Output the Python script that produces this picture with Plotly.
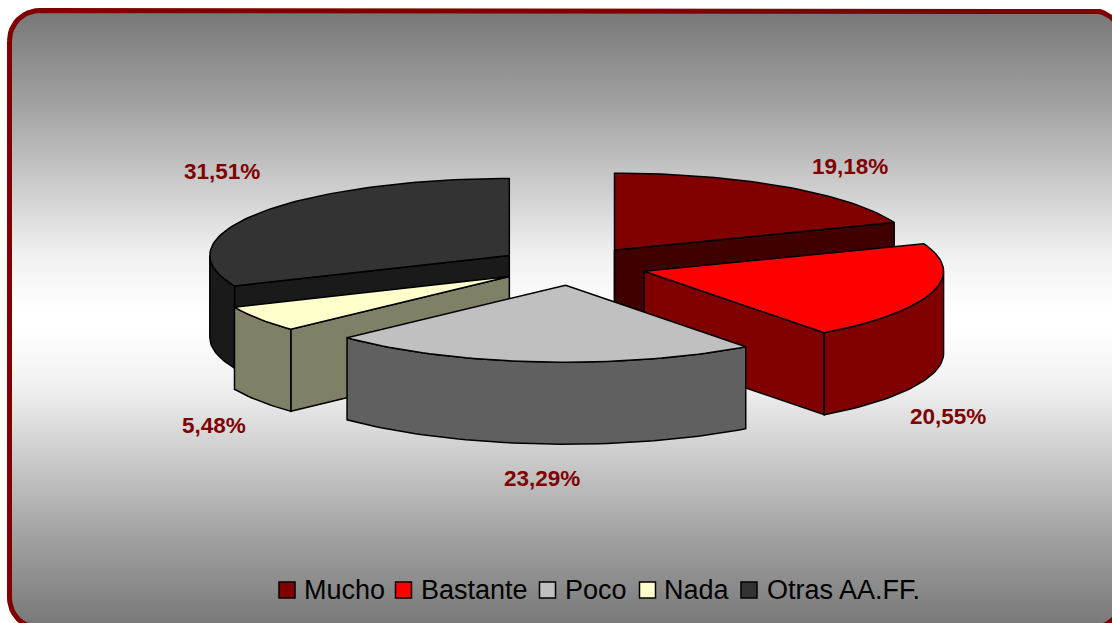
import math
import plotly.graph_objects as go

# ---- data -------------------------------------------------------------
categories = ["Mucho", "Bastante", "Poco", "Nada", "Otras AA.FF."]
percent_values = [19.18, 20.55, 23.29, 5.48, 31.51]
top_colors = ["#800000", "#FF0000", "#C0C0C0", "#FFFFCC", "#333333"]
wall_colors = ["#400000", "#800000", "#606060", "#808066", "#1A1A1A"]
label_x = [849.5, 948, 542, 214, 222]
label_y = [166, 416, 478, 425, 171]
legend_swatch_x = [287, 403.5, 547.5, 647.5, 749]
legend_text_x = [304, 421, 565, 664, 767]
legend_y = 590
paint_order = [4, 0, 3, 1, 2]

# ---- projection of the tilted, exploded pie ---------------------------
W, H = 1112, 623
CX, CY, RX, TILT, EXPLODE, DEPTH = 572, 266, 299.5, 0.257, 75, 82


def project(cx, cy, deg, radius=RX):
    a = math.radians(deg)
    return cx + radius * math.sin(a), cy - radius * TILT * math.cos(a)


def arc(cx, cy, a0, a1, dy=0):
    n = max(2, int(abs(a1 - a0) / 1.5) + 1)
    pts = [project(cx, cy, a0 + (a1 - a0) * i / (n - 1)) for i in range(n)]
    return [(x, y + dy) for x, y in pts]


def add_poly(fig, pts, color, **kw):
    pts = list(pts) + [pts[0]]
    fig.add_trace(go.Scatter(
        x=[p[0] for p in pts], y=[p[1] for p in pts], mode="lines",
        fill="toself", fillcolor=color, line=dict(color="black", width=1.5),
        hoverinfo="skip", showlegend=False, **kw))


fig = go.Figure()

# rounded background panel with the vertical gradient
L, T, R_, B, RAD = 9.5, 10.5, 1122, 628, 30
panel = []
for cx, cy, a0 in [(L + RAD, T + RAD, 180), (R_ - RAD, T + RAD, 270),
                   (R_ - RAD, B - RAD, 0), (L + RAD, B - RAD, 90)]:
    for i in range(13):
        a = math.radians(a0 + 7.5 * i)
        panel.append((cx + RAD * math.cos(a), cy + RAD * math.sin(a)))
panel.append(panel[0])
fig.add_trace(go.Scatter(
    x=[p[0] for p in panel], y=[p[1] for p in panel], mode="lines",
    fill="toself", line=dict(color="#800000", width=5),
    fillgradient=dict(type="vertical", colorscale=[
        [0, "#777777"], [0.15, "#A2A2A2"], [0.31, "#D6D6D6"], [0.39, "#F0F0F0"],
        [0.47, "#FDFDFD"], [0.498, "#FFFFFF"], [0.526, "#FDFDFD"], [0.606, "#F0F0F0"],
        [0.686, "#D6D6D6"], [0.846, "#A2A2A2"], [1, "#777777"]]),
    hoverinfo="skip", showlegend=False))

# slice angles
total = sum(percent_values)
starts, ends, acc = [], [], 0.0
for v in percent_values:
    starts.append(acc / total * 360)
    acc += v
    ends.append(acc / total * 360)

for i in paint_order:
    a0, a1 = starts[i], ends[i]
    mid = math.radians((a0 + a1) / 2)
    cx = CX + EXPLODE * math.sin(mid)
    cy = CY - EXPLODE * TILT * math.cos(mid)
    # cut faces that look towards the viewer
    if 180 <= a0 < 360:
        p = project(cx, cy, a0)
        add_poly(fig, [(cx, cy), p, (p[0], p[1] + DEPTH), (cx, cy + DEPTH)], wall_colors[i])
    if 0 < a1 <= 180:
        p = project(cx, cy, a1)
        add_poly(fig, [(cx, cy), p, (p[0], p[1] + DEPTH), (cx, cy + DEPTH)], wall_colors[i])
    if a0 == 0:
        add_poly(fig, [(cx, cy), (cx, cy + DEPTH)], wall_colors[i])
    # rim wall, front half only
    w0, w1 = max(a0, 90), min(a1, 270)
    if w0 < w1:
        add_poly(fig, arc(cx, cy, w0, w1) + arc(cx, cy, w1, w0, DEPTH), wall_colors[i])
    # top face
    add_poly(fig, [(cx, cy)] + arc(cx, cy, a0, a1), top_colors[i])

# legend row: square swatch and name per category
for name, color, sx, tx in zip(categories, top_colors, legend_swatch_x, legend_text_x):
    fig.add_trace(go.Scatter(
        x=[sx], y=[legend_y], mode="markers", name=name, showlegend=False,
        marker=dict(symbol="square", size=16, color=color,
                    line=dict(color="black", width=1.5))))
    fig.add_annotation(x=tx, y=legend_y, xref="x", yref="y", showarrow=False,
                       xanchor="left", yanchor="middle", borderpad=0, borderwidth=0,
                       text=name,
                       font=dict(family="Liberation Sans", size=27, color="black"))

# percentage labels
for v, x, y in zip(percent_values, label_x, label_y):
    label = f"{v:.2f}%".replace(".", ",")
    fig.add_annotation(x=x, y=y, xref="x", yref="y", showarrow=False,
                       text=f"<b>{label}</b>",
                       font=dict(family="Liberation Sans", size=22.5, color="#800000"))

fig.update_layout(
    width=W, height=H, margin=dict(l=0, r=0, t=0, b=0),
    paper_bgcolor="white", plot_bgcolor="white", showlegend=False,
    xaxis=dict(range=[0, W], visible=False, fixedrange=True),
    yaxis=dict(range=[H, 0], visible=False, fixedrange=True),
)

fig.write_html("out.html", config=dict(displayModeBar=False),
               post_script="document.body.style.margin='0';")
